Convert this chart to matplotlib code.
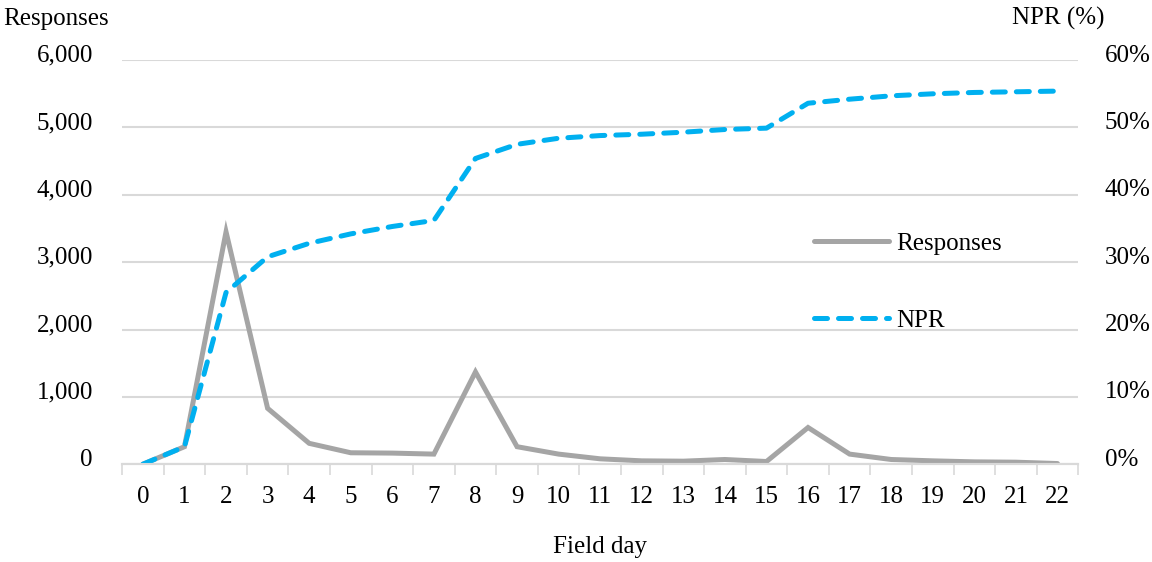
import matplotlib.pyplot as plt
import matplotlib.ticker as mticker
import matplotlib.transforms as mtransforms

plt.rcParams['font.family'] = ['Liberation Serif', 'DejaVu Serif']

# data
days = list(range(23))
responses = [0, 260, 3450, 830, 310, 170, 165, 150, 1370, 260, 150, 80,
             50, 45, 70, 40, 545, 150, 70, 50, 35, 30, 10]
npr = [0.0, 2.6, 25.5, 30.8, 32.8, 34.2, 35.3, 36.2, 45.4, 47.5, 48.4, 48.8,
       49.0, 49.3, 49.7, 49.9, 53.6, 54.2, 54.7, 55.0, 55.2, 55.3, 55.4]

grey = '#A5A5A5'
blue = '#00B0F0'
grid = '#D9D9D9'
fs = 18

fig = plt.figure(figsize=(11.52, 5.62), dpi=100)
ax = fig.add_axes([0.106, 0.174, 0.830, 0.719])
ax2 = ax.twinx()

l1, = ax.plot(days, responses, color=grey, lw=3.6, solid_capstyle='round',
              solid_joinstyle='miter', label='Responses')
l2, = ax2.plot(days, npr, color=blue, lw=3.6, dash_capstyle='round',
               dashes=(2.6, 2.2), label='NPR')

ax.set_xlim(-0.5, 22.5)
ax.set_ylim(0, 6000)
ax2.set_ylim(0, 60)

ax.set_yticks(range(0, 6001, 1000))
ax.yaxis.set_major_formatter(mticker.FuncFormatter(lambda v, p: f'{int(v):,}'))
ax2.set_yticks(range(0, 61, 10))
ax2.yaxis.set_major_formatter(mticker.FuncFormatter(lambda v, p: f'{int(v)}%'))

ax.set_xticks(days)
ax.set_xticks([d - 0.5 for d in days] + [22.5], minor=True)
ax.tick_params(axis='x', which='major', length=0, pad=16, labelsize=fs)
ax.tick_params(axis='x', which='minor', length=8, width=1.2, color=grid)
ax.tick_params(axis='y', length=0, pad=21, labelsize=fs)
ax2.tick_params(axis='y', length=0, pad=19, labelsize=fs)

# y tick labels sit a little above their gridlines
up = mtransforms.ScaledTranslation(0, 7 / 100, fig.dpi_scale_trans)
for t in ax.yaxis.get_major_ticks():
    t.label1.set_transform(t.label1.get_transform() + up)
for t in ax2.yaxis.get_major_ticks():
    t.label2.set_transform(t.label2.get_transform() + up)

ax.grid(axis='y', color=grid, lw=1.5)
ax.set_axisbelow(True)
for a in (ax, ax2):
    for s in ('top', 'left', 'right'):
        a.spines[s].set_visible(False)
    a.spines['bottom'].set_color(grid)
    a.spines['bottom'].set_linewidth(1.5)

fig.text(0.003, 0.967, 'Responses', fontsize=fs, va='center', ha='left')
fig.text(0.919, 0.967, 'NPR (%)', fontsize=fs, va='center', ha='center')
fig.text(0.521, 0.026, 'Field day', fontsize=fs, va='center', ha='center')

ax2.legend([l1, l2], ['Responses', 'NPR'], loc='upper left',
           bbox_to_anchor=(0.7, 0.63), frameon=False, fontsize=fs,
           handlelength=3.0, handletextpad=0.3, labelspacing=2.2)

fig.savefig('out.png', dpi=100)
